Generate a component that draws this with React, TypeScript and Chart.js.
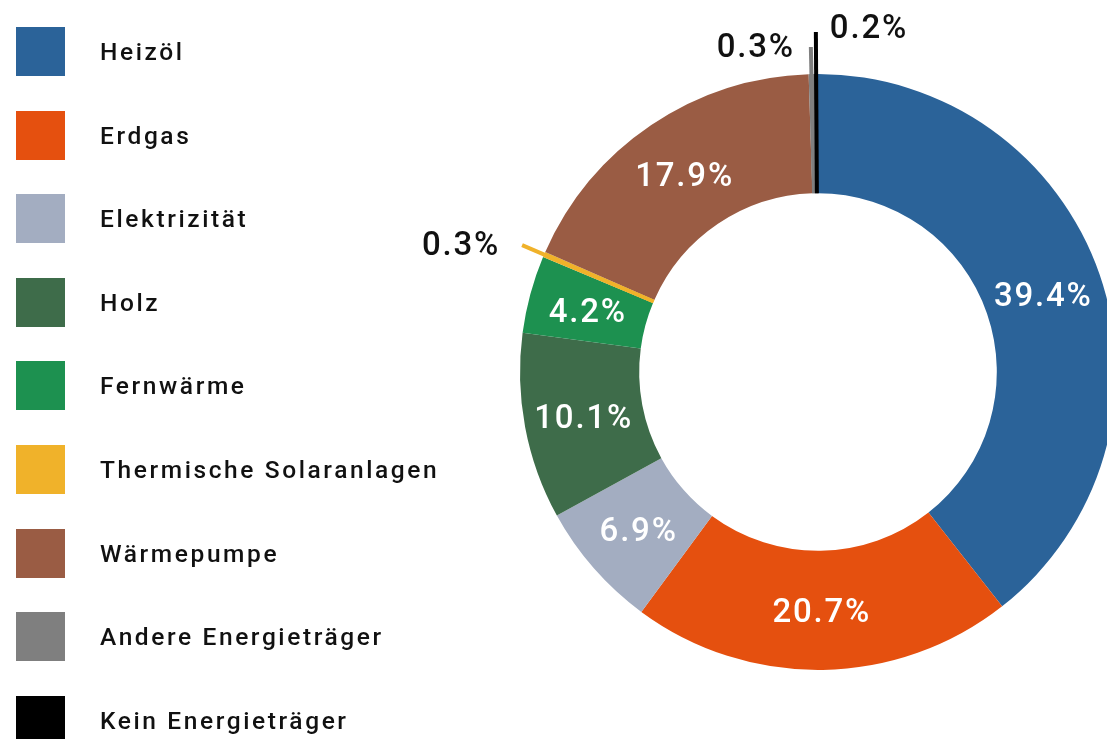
import React, { useEffect, useRef } from "react";
import { Chart, registerables } from "chart.js";

Chart.register(...registerables);

const categories = [
  "Heizöl",
  "Erdgas",
  "Elektrizität",
  "Holz",
  "Fernwärme",
  "Thermische Solaranlagen",
  "Wärmepumpe",
  "Andere Energieträger",
  "Kein Energieträger",
];
const shares = [39.4, 20.7, 6.9, 10.1, 4.2, 0.3, 17.9, 0.3, 0.2];
const labelTexts = ["39.4%", "20.7%", "6.9%", "10.1%", "4.2%", "0.3%", "17.9%", "0.3%", "0.2%"];
const colors = [
  "#2b6399",
  "#e5500f",
  "#a3adc1",
  "#3e6c4a",
  "#1d9150",
  "#f0b22a",
  "#9a5c44",
  "#7f7f7f",
  "#000000",
];
// small slices drawn as lines reaching beyond the ring
const tinySlices = [5, 7, 8];
const tinyExtend = [24, 27, 42];

const W = 1140;
const H = 739;
const LABEL_FONT = "500 33px Roboto";
const CAP = 12; // half cap height for visual centring

const labelPlugin = {
  id: "sliceLabels",
  afterDatasetsDraw(chart: any) {
    const ctx = chart.ctx;
    const meta = chart.getDatasetMeta(0);
    ctx.save();
    meta.data.forEach((arc: any, i: number) => {
      const { x, y, startAngle, endAngle, innerRadius, outerRadius } = arc.getProps(
        ["x", "y", "startAngle", "endAngle", "innerRadius", "outerRadius"],
        true
      );
      const mid = (startAngle + endAngle) / 2;
      const ti = tinySlices.indexOf(i);
      ctx.font = LABEL_FONT;
      (ctx as any).letterSpacing = "1.8px";
      ctx.textBaseline = "alphabetic";
      if (ti >= 0) {
        const r2 = outerRadius + tinyExtend[ti];
        const x1 = x + Math.cos(mid) * innerRadius;
        const y1 = y + Math.sin(mid) * innerRadius;
        const x2 = x + Math.cos(mid) * r2;
        const y2 = y + Math.sin(mid) * r2;
        ctx.strokeStyle = colors[i];
        ctx.lineWidth = 4;
        ctx.lineCap = "butt";
        ctx.beginPath();
        ctx.moveTo(x1, y1);
        ctx.lineTo(x2, y2);
        ctx.stroke();
        ctx.fillStyle = "#111111";
        if (i === 5) {
          ctx.textAlign = "right";
          ctx.fillText(labelTexts[i], x2 - 22, y2 - 2 + CAP);
        } else if (i === 7) {
          ctx.textAlign = "right";
          ctx.fillText(labelTexts[i], x2 - 16, y2 - 2 + CAP);
        } else {
          ctx.textAlign = "left";
          ctx.fillText(labelTexts[i], x2 + 14, y2 - 6 + CAP);
        }
      } else {
        const r = (innerRadius + outerRadius) / 2;
        ctx.fillStyle = "#ffffff";
        ctx.textAlign = "center";
        ctx.fillText(labelTexts[i], x + Math.cos(mid) * r, y + Math.sin(mid) * r + CAP);
      }
    });
    ctx.restore();
  },
};

export default function App() {
  const ref = useRef<HTMLCanvasElement | null>(null);
  useEffect(() => {
    document.body.style.margin = "0";
    const chart = new Chart(ref.current as HTMLCanvasElement, {
      type: "doughnut",
      data: {
        labels: categories,
        datasets: [
          {
            data: shares,
            backgroundColor: colors,
            borderWidth: 0,
            hoverOffset: 0,
            offset: 0,
          },
        ],
      },
      options: {
        responsive: false,
        animation: false,
        devicePixelRatio: 1,
        cutout: "60%",
        layout: { padding: { left: 520, right: 24, top: 74, bottom: 69 } },
        plugins: {
          legend: { display: false },
          tooltip: { enabled: false },
        },
      },
      plugins: [labelPlugin],
    });
    return () => chart.destroy();
  }, []);

  return (
    <div
      style={{
        position: "absolute",
        left: 0,
        top: 0,
        width: 1107,
        height: 739,
        overflow: "hidden",
        background: "#ffffff",
      }}
    >
      <canvas ref={ref} width={W} height={H} style={{ width: W, height: H, display: "block" }} />
      {categories.map((c, i) => (
        <div key={c}>
          <div
            style={{
              position: "absolute",
              left: 16,
              top: 27 + i * 83.6,
              width: 49,
              height: 49,
              background: colors[i],
            }}
          />
          <div
            style={{
              position: "absolute",
              left: 100,
              top: 27 + i * 83.6,
              height: 49,
              lineHeight: "49px",
              fontFamily: "Roboto",
              fontWeight: 500,
              fontSize: 24.5,
              letterSpacing: "2.6px",
              color: "#111111",
              whiteSpace: "nowrap",
            }}
          >
            {c}
          </div>
        </div>
      ))}
    </div>
  );
}
